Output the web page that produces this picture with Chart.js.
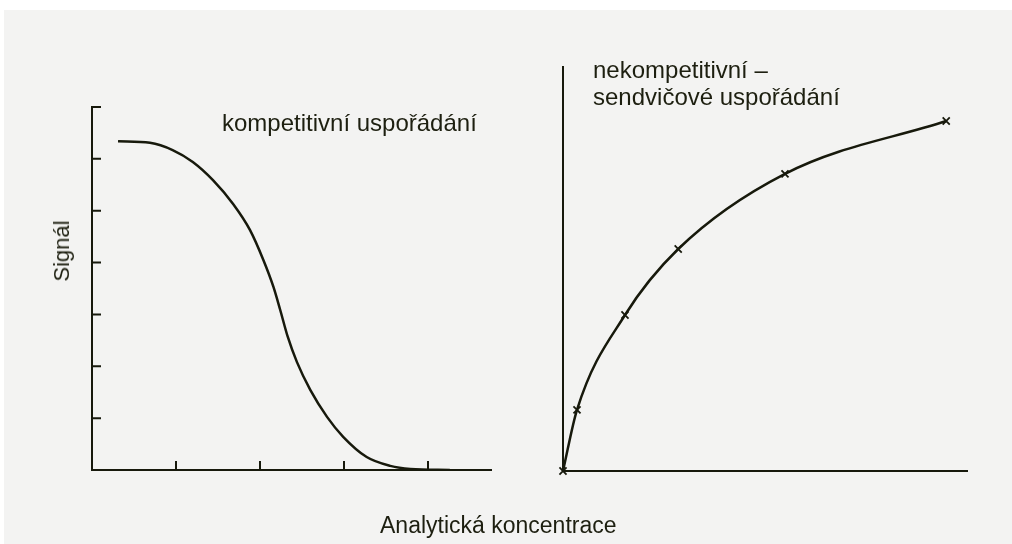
<!DOCTYPE html>
<html>
<head>
<meta charset="utf-8">
<script src="https://cdn.jsdelivr.net/npm/chart.js@4.4.1/dist/chart.umd.min.js"></script>
<style>
body { margin: 0; background: #fff; width: 1012px; height: 544px; overflow: hidden; position: relative;
       font-family: "Liberation Sans", Arial, sans-serif; color: #1d1f10; }
#paper { position: absolute; left: 4px; top: 10px; right: 0; bottom: 0; background: #f3f3f2; }
.box { position: absolute; top: 0; height: 544px; }
.lbl { position: absolute; white-space: nowrap; font-size: 24px; line-height: 1; }
</style>
</head>
<body>
<div id="paper"></div>
<div class="box" style="left:0;width:520px"><canvas id="compChart" width="520" height="544"></canvas></div>
<div class="box" style="left:520px;width:492px"><canvas id="sandChart" width="492" height="544"></canvas></div>
<div class="lbl" style="left:222px;top:111px">kompetitivní uspořádání</div>
<div class="lbl" style="left:593px;top:58px">nekompetitivní –</div>
<div class="lbl" style="left:593px;top:85px">sendvičové uspořádání</div>
<div class="lbl" style="left:380px;top:514px;font-size:23px">Analytická koncentrace</div>
<div class="lbl" style="left:62px;top:251px;font-size:22px;transform:translate(-50%,-50%) rotate(-90deg)">Signál</div>
<script>
// competitive assay (left panel)
var compX = [0.31, 0.69, 0.96, 1.20, 1.44, 1.68, 1.88, 2.04, 2.16, 2.24, 2.33, 2.44, 2.60, 2.80, 2.99, 3.27, 3.55, 3.79, 4.26];
var compY = [6.34, 6.31, 6.17, 5.94, 5.59, 5.13, 4.63, 4.05, 3.53, 3.09, 2.57, 2.08, 1.54, 1.02, 0.64, 0.25, 0.08, 0.02, 0.00];
var compTicksX = [1, 2, 3, 4];
var compTicksY = [1, 2, 3, 4, 5, 6, 7];

// sandwich assay (right panel), measured points
var sandX = [0, 0.35, 1.55, 2.88, 5.55, 9.58];
var sandY = [0, 1.53, 3.90, 5.55, 7.43, 8.75];

var ink = '#17190c';

function pts(xs, ys) {
    return xs.map(function (x, i) { return { x: x, y: ys[i] }; });
}

//Inward tick marks on the axes
var inTicks = {
    id: 'inTicks',
    afterDraw: function (chart) {
        var o = chart.options.plugins.inTicks;
        if (!o || !o.len) return;
        var ctx = chart.ctx, xs = chart.scales.x, ys = chart.scales.y;
        ctx.save();
        ctx.strokeStyle = ink;
        ctx.lineWidth = 2;
        ctx.beginPath();
        o.x.forEach(function (v) {
            var px = xs.getPixelForValue(v);
            ctx.moveTo(px, ys.bottom);
            ctx.lineTo(px, ys.bottom - o.len);
        });
        o.y.forEach(function (v) {
            var py = ys.getPixelForValue(v);
            ctx.moveTo(xs.left, py);
            ctx.lineTo(xs.left + o.len, py);
        });
        ctx.stroke();
        ctx.restore();
    }
};

function axis(min, max) {
    return {
        type: 'linear', min: min, max: max,
        grid: { display: false, drawTicks: false },
        ticks: { display: false },
        border: { display: true, color: ink, width: 2 }
    };
}

new Chart(document.getElementById('compChart'), {
    type: 'line',
    data: {
        datasets: [{
            data: pts(compX, compY),
            borderColor: ink,
            borderWidth: 2.5,
            pointRadius: 0,
            cubicInterpolationMode: 'monotone',
            fill: false
        }]
    },
    options: {
        responsive: false,
        animation: false,
        layout: { padding: { left: 92, top: 107, right: 29, bottom: 74 } },
        scales: { x: axis(0, 4.75), y: axis(0, 7) },
        plugins: {
            legend: { display: false },
            tooltip: { enabled: false },
            inTicks: { x: compTicksX, y: compTicksY, len: 9 }
        }
    },
    plugins: [inTicks]
});

new Chart(document.getElementById('sandChart'), {
    type: 'line',
    data: {
        datasets: [{
            data: pts(sandX, sandY),
            borderColor: ink,
            borderWidth: 2.5,
            pointStyle: 'crossRot',
            pointRadius: 5,
            pointBorderWidth: 1.8,
            pointBorderColor: ink,
            cubicInterpolationMode: 'monotone',
            clip: false,
            fill: false
        }]
    },
    options: {
        responsive: false,
        animation: false,
        layout: { padding: { left: 43, top: 67, right: 45, bottom: 73 } },
        scales: { x: axis(0, 10.1), y: axis(0, 10.1) },
        plugins: {
            legend: { display: false },
            tooltip: { enabled: false },
            inTicks: { x: [], y: [], len: 0 }
        }
    },
    plugins: [inTicks]
});
</script>
</body>
</html>
